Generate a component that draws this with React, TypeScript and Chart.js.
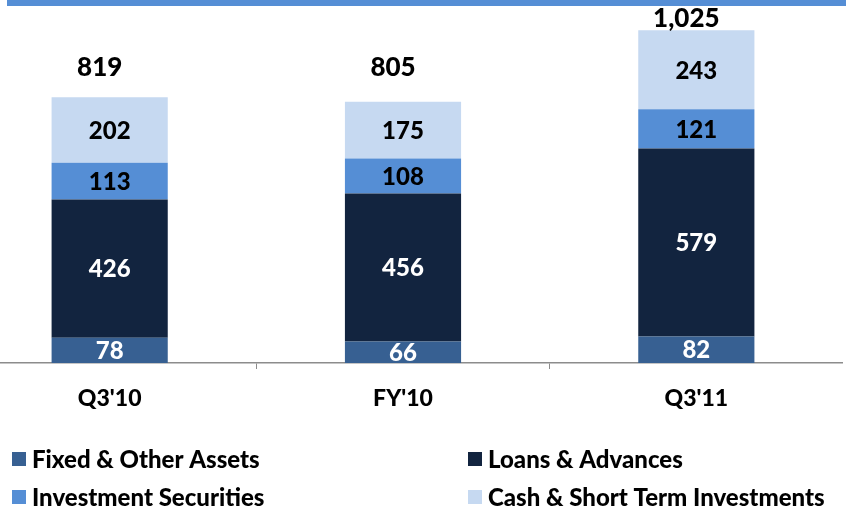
import React, { useEffect, useRef } from "react";
import { Chart, registerables } from "chart.js";

Chart.register(...registerables);

const categories = ["Q3'10", "FY'10", "Q3'11"];
const fixedOther = [78, 66, 82];
const loansAdvances = [426, 456, 579];
const investmentSecurities = [113, 108, 121];
const cashShortTerm = [202, 175, 243];
const totalLabels = ["819", "805", "1,025"];

const seriesNames = [
  "Fixed & Other Assets",
  "Loans & Advances",
  "Investment Securities",
  "Cash & Short Term Investments",
];
const seriesColors = ["#376092", "#12243F", "#558ED5", "#C6D9F1"];
const labelColors = ["#FFFFFF", "#FFFFFF", "#000000", "#000000"];

const FONT = "Lato, 'Open Sans', sans-serif";
const CANVAS_OFFSET = 37; // canvas starts 37px left of page

const segmentLabelPlugin = {
  id: "segmentLabels",
  afterDatasetsDraw(chart: any) {
    const ctx = chart.ctx;
    ctx.save();
    ctx.font = `900 24px ${FONT}`;
    ctx.textAlign = "center";
    ctx.textBaseline = "middle";
    chart.data.datasets.forEach((ds: any, di: number) => {
      const meta = chart.getDatasetMeta(di);
      meta.data.forEach((el: any, i: number) => {
        const y = (el.y + el.base) / 2;
        ctx.fillStyle = labelColors[di];
        ctx.fillText(String(ds.data[i]), el.x, y + 1);
      });
    });
    // totals
    const yScale = chart.scales.y;
    const xScale = chart.scales.x;
    ctx.font = `900 26px ${FONT}`;
    ctx.fillStyle = "#000";
    const totalOffsets = [30, 34, 12];
    categories.forEach((_, i) => {
      const total =
        fixedOther[i] + loansAdvances[i] + investmentSecurities[i] + cashShortTerm[i];
      const x = xScale.getPixelForValue(i) - 10;
      const y = yScale.getPixelForValue(total) - totalOffsets[i];
      ctx.fillText(totalLabels[i], x, y);
    });
    ctx.restore();
  },
};

const legendPlugin = {
  id: "customLegend",
  afterDraw(chart: any) {
    const ctx = chart.ctx;
    ctx.save();
    ctx.font = `900 24px ${FONT}`;
    ctx.textBaseline = "middle";
    ctx.textAlign = "left";
    const order = [0, 1, 2, 3];
    const colX = [12, 468];
    const rowY = [459, 497];
    order.forEach((di, k) => {
      const col = k % 2;
      const row = Math.floor(k / 2);
      const x = colX[col] + CANVAS_OFFSET;
      const y = rowY[row];
      ctx.fillStyle = chart.data.datasets[di].backgroundColor;
      ctx.fillRect(x, y - 7, 14, 14);
      ctx.fillStyle = "#000";
      ctx.fillText(chart.data.datasets[di].label, x + 20, y + 1);
    });
    ctx.restore();
  },
};

export default function App() {
  const ref = useRef<HTMLCanvasElement>(null);
  useEffect(() => {
    if (!ref.current) return;
    const seriesData = [fixedOther, loansAdvances, investmentSecurities, cashShortTerm];
    const chart = new Chart(ref.current, {
      type: "bar",
      data: {
        labels: categories,
        datasets: seriesData.map((d, i) => ({
          label: seriesNames[i],
          data: d,
          backgroundColor: seriesColors[i],
          borderWidth: 0,
          categoryPercentage: 1,
          barPercentage: 0.396,
        })),
      },
      options: {
        animation: false,
        responsive: false,
        layout: { padding: { top: 6, left: 0, right: 0, bottom: 0 } },
        plugins: {
          legend: { display: false },
          tooltip: { enabled: false },
        },
        scales: {
          x: {
            stacked: true,
            grid: {
              display: true,
              drawOnChartArea: false,
              drawTicks: true,
              tickLength: 6,
              color: "#8C8C8C",
              offset: true,
            },
            border: { display: true, color: "#8C8C8C", width: 1.5 },
            ticks: {
              color: "#000",
              padding: 16,
              font: { family: FONT, size: 23, weight: "900" },
            },
            afterFit: (s: any) => {
              s.height = 149;
            },
          },
          y: {
            stacked: true,
            display: false,
            min: 0,
            max: 1100,
          },
        },
      },
      plugins: [segmentLabelPlugin, legendPlugin],
    });
    return () => chart.destroy();
  }, []);

  return (
    <div style={{ position: "absolute", left: 0, top: 0, width: 846, height: 512, overflow: "hidden", background: "#fff" }}>
      <div style={{ position: "absolute", left: 7, top: 0, right: 0, height: 6, background: "#558ED5" }} />
      <canvas
        ref={ref}
        width={880}
        height={512}
        style={{ position: "absolute", left: -CANVAS_OFFSET, top: 0, width: 880, height: 512 }}
      />
    </div>
  );
}
